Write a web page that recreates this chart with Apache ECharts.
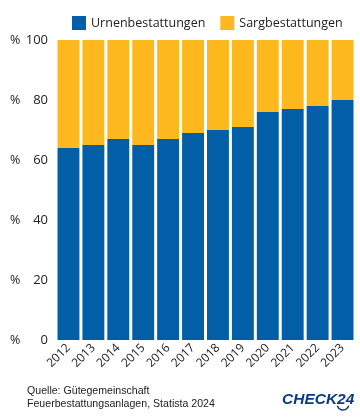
<!DOCTYPE html>
<html><head><meta charset="utf-8">
<script src="https://cdn.jsdelivr.net/npm/echarts@6/dist/echarts.min.js"></script>
<style>html,body{margin:0;padding:0;background:#fff}#c{width:360px;height:417px}</style>
</head><body><div id="c"></div>
<script>
const years = ['2012','2013','2014','2015','2016','2017','2018','2019','2020','2021','2022','2023'];
const urne = [64,65,67,65,67,69,70,71,76,77,78,80];
const sarg = [36,35,33,35,33,31,30,29,24,23,22,20];
const yTicks = [0,20,40,60,80,100];
const seriesNames = ['Urnenbestattungen','Sargbestattungen'];
const sourceLines = ['Quelle: Gütegemeinschaft','Feuerbestattungsanlagen, Statista 2024'];

const chart = echarts.init(document.getElementById('c'), null, {renderer:'canvas'});
chart.setOption({
  animation:false,
  textStyle:{fontFamily:'Open Sans'},
  legend:{
    top:11, left:67, itemWidth:14, itemHeight:14, itemGap:15,
    icon:'rect',
    textStyle:{fontFamily:'Open Sans', fontSize:12.5, color:'#222'},
    data:seriesNames
  },
  grid:{left:56, right:5, top:40, bottom:77, containLabel:false},
  xAxis:{
    type:'category', data:years,
    axisLine:{show:false}, axisTick:{show:false},
    axisLabel:{rotate:45, fontSize:12, color:'#222', margin:6, fontFamily:'Open Sans'}
  },
  yAxis:{
    type:'value', min:0, max:100, interval:20,
    splitLine:{show:false}, axisLine:{show:false}, axisTick:{show:false},
    axisLabel:{
      margin:8,
      formatter:v=>'{p|%}{v|'+v+'}',
      rich:{
        p:{fontSize:12.5, color:'#222', width:16, align:'left', fontFamily:'Open Sans'},
        v:{fontSize:13, color:'#222', width:22, align:'right', fontFamily:'Open Sans'}
      }
    }
  },
  series:[
    {name:seriesNames[0], type:'bar', stack:'a', data:urne, barCategoryGap:'12%',
     itemStyle:{color:'#035ea8'}},
    {name:seriesNames[1], type:'bar', stack:'a', data:sarg,
     itemStyle:{color:'#fdb81e'}}
  ],
  graphic:[
    {type:'text', left:27, top:385, style:{text:sourceLines.join('\n'), fontFamily:'Liberation Sans', fontSize:10.6, lineHeight:12.7, fill:'#222'}},
    {type:'text', left:282, top:392, style:{text:'CHECK24', fontFamily:'Liberation Sans', fontWeight:'bold', fontStyle:'italic', fontSize:15.5, fill:'#0a3a86'}},
    {type:'arc', shape:{cx:343, cy:404, r:6, startAngle:0.3, endAngle:Math.PI-0.3}, style:{stroke:'#0a3a86', lineWidth:1.5, fill:null}}
  ]
});
</script></body></html>
